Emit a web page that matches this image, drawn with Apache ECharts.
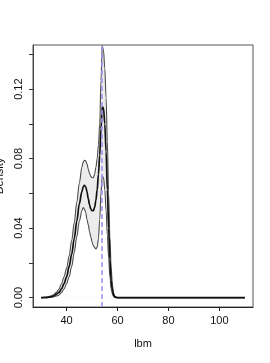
<!DOCTYPE html>
<html>
<head>
<meta charset="utf-8">
<script src="https://cdn.jsdelivr.net/npm/echarts@6/dist/echarts.min.js"></script>
<style>
html,body{margin:0;padding:0;background:#fff;}
#chart{width:270px;height:363px;}
</style>
</head>
<body>
<div id="chart"></div>
<script>
// lbm grid (x values shared by all three curves)
const lbm = [30, 32, 34, 35, 36, 37, 38, 39, 40, 41, 42, 43, 44, 45, 46, 46.5, 47, 47.5, 48, 48.5, 49, 49.5, 50, 50.5, 51, 51.5, 52, 52.5, 53, 53.5, 54, 54.5, 55, 55.5, 56, 56.5, 57, 57.5, 58, 58.5, 59, 60, 62, 110];
const upperDensity = [0, 0.0002, 0.001, 0.0018, 0.003, 0.005, 0.008, 0.012, 0.017, 0.024, 0.033, 0.043, 0.055, 0.066, 0.075, 0.078, 0.079, 0.0788, 0.077, 0.074, 0.0715, 0.0698, 0.069, 0.069, 0.071, 0.075, 0.080, 0.088, 0.100, 0.125, 0.145, 0.142, 0.132, 0.115, 0.090, 0.060, 0.035, 0.017, 0.007, 0.0025, 0.0008, 0, 0, 0];
const meanDensity = [0, 0.0001, 0.0005, 0.001, 0.002, 0.003, 0.005, 0.008, 0.012, 0.018, 0.025, 0.034, 0.044, 0.054, 0.061, 0.0637, 0.0646, 0.0638, 0.061, 0.057, 0.0535, 0.051, 0.050, 0.050, 0.052, 0.056, 0.062, 0.071, 0.082, 0.097, 0.110, 0.109, 0.100, 0.084, 0.062, 0.040, 0.022, 0.010, 0.004, 0.0012, 0.0003, 0, 0, 0];
const lowerDensity = [0, 0, 0.0002, 0.0005, 0.001, 0.0015, 0.003, 0.005, 0.008, 0.012, 0.018, 0.026, 0.035, 0.044, 0.050, 0.0518, 0.051, 0.049, 0.045, 0.042, 0.038, 0.035, 0.032, 0.030, 0.0288, 0.028, 0.029, 0.034, 0.045, 0.060, 0.070, 0.069, 0.062, 0.050, 0.036, 0.023, 0.012, 0.005, 0.002, 0.0007, 0.0002, 0, 0, 0];
const refLbm = 53.7;
const xTicks = [40, 60, 80, 100];
const yTicks = [0, 0.02, 0.04, 0.06, 0.08, 0.10, 0.12, 0.14];
const yLabels = [0, 0.04, 0.08, 0.12];

const pairs = arr => lbm.map((x, i) => [x, arr[i]]);

const FONT = '"Liberation Sans Narrow", "Liberation Sans", Arial, sans-serif';
const chart = echarts.init(document.getElementById('chart'), null, {renderer: 'canvas'});
const lineCommon = {type: 'line', showSymbol: false, symbol: 'none', smooth: 0.35, smoothMonotone: 'x', animation: false, silent: true};

chart.setOption({
  animation: false,
  backgroundColor: '#fff',
  grid: {left: 33, top: 45, width: 220, height: 262, show: true, borderColor: '#555', borderWidth: 1,
    backgroundColor: 'transparent', containLabel: false, outerBoundsMode: 'none'},
  xAxis: {
    type: 'value', min: 26.8, max: 113.2,
    name: 'lbm', nameLocation: 'middle', nameGap: 31,
    nameTextStyle: {fontFamily: FONT, fontSize: 11, color: '#111'},
    splitLine: {show: false},
    axisLine: {show: true, onZero: false, lineStyle: {color: '#222', width: 1}},
    axisTick: {show: true, length: 4, customValues: xTicks, lineStyle: {color: '#222'}},
    axisLabel: {customValues: xTicks, margin: 8, fontFamily: FONT, fontSize: 11, color: '#111'}
  },
  yAxis: {
    type: 'value', min: -0.0054, max: 0.1454,
    name: 'Density', nameLocation: 'middle', nameGap: 26, nameRotate: 90,
    nameTextStyle: {fontFamily: FONT, fontSize: 11, color: '#111'},
    splitLine: {show: false},
    axisLine: {show: true, onZero: false, lineStyle: {color: '#444', width: 1}},
    axisTick: {show: true, length: 4, customValues: yTicks, lineStyle: {color: '#333'}},
    axisLabel: {customValues: yLabels, rotate: 90, margin: 9, fontFamily: FONT, fontSize: 11, color: '#111',
      formatter: v => v.toFixed(2)}
  },
  series: [
    Object.assign({}, lineCommon, {name: 'bandTop', data: pairs(upperDensity), lineStyle: {opacity: 0}, areaStyle: {color: '#ececec', opacity: 1}, z: 1}),
    Object.assign({}, lineCommon, {name: 'bandBottom', data: pairs(lowerDensity), lineStyle: {opacity: 0}, areaStyle: {color: '#ffffff', opacity: 1}, z: 1}),
    Object.assign({}, lineCommon, {name: 'upper', data: pairs(upperDensity), lineStyle: {color: '#4a4a4a', width: 1.1}, z: 3}),
    Object.assign({}, lineCommon, {name: 'lower', data: pairs(lowerDensity), lineStyle: {color: '#4a4a4a', width: 1.1}, z: 3}),
    Object.assign({}, lineCommon, {name: 'mean', data: pairs(meanDensity), lineStyle: {color: '#111', width: 1.7}, z: 4,
      markLine: {silent: true, symbol: 'none', label: {show: false}, animation: false,
        lineStyle: {color: '#9c96f2', type: [5, 3], width: 1.6},
        data: [{xAxis: refLbm}]}})
  ]
});
</script>
</body>
</html>
